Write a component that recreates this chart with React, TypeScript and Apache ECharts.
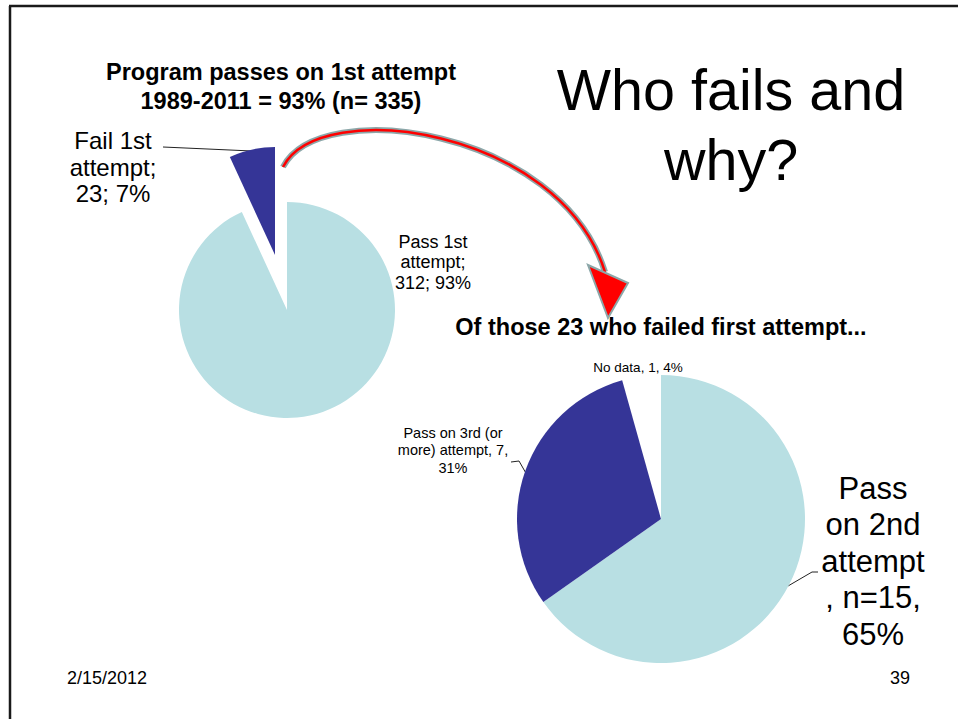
import React, { useEffect, useRef } from "react";
import * as echarts from "echarts";

// ---- data ----
const firstNames = ["Pass 1st attempt", "Fail 1st attempt"];
const firstValues = [312, 23];
const firstPercents = ["93%", "7%"];

const failedNames = ["Pass on 2nd attempt", "Pass on 3rd (or more) attempt", "No data"];
const failedValues = [15, 7, 1];
const failedPercents = ["65%", "31%", "4%"];

const titleFirst = "Program passes on 1st attempt\n1989-2011 = 93% (n= 335)";
const titleFailed = "Of those 23 who failed first attempt...";
const headline = "Who fails and\nwhy?";
const footerDate = "2/15/2012";
const footerPage = "39";

const FONT = '"Liberation Sans", Arial, Helvetica, sans-serif';
const LIGHT = "#B8DFE3";
const DARK = "#353597";
const NONE = "rgba(0,0,0,0)";
const ARROW_GRAY = "#8CA7A9";

// label texts built from the data
const firstLabel = (i: number) =>
  firstNames[i].replace(" attempt", "\nattempt") + ";\n" + firstValues[i] + "; " + firstPercents[i];
const failedLabel = (i: number) => {
  if (i === 0) return "Pass\non 2nd\nattempt\n, n=" + failedValues[i] + ",\n" + failedPercents[i];
  if (i === 1) return "Pass on 3rd (or\nmore) attempt, " + failedValues[i] + ",\n" + failedPercents[i];
  return failedNames[i] + ", " + failedValues[i] + ", " + failedPercents[i];
};

// label placement (layout only)
const firstLabelPos = [
  { x: 433, y: 262, size: 18, lh: 20.5 },
  { x: 113, y: 167, size: 24, lh: 26.5 },
];
const failedLabelPos = [
  { x: 873, y: 561, size: 31, lh: 36.5 },
  { x: 453, y: 450, size: 14.5, lh: 17.5 },
  { x: 638, y: 367, size: 13.5, lh: 16 },
];

function firstSeries(center: number[], shown: number) {
  return {
    type: "pie",
    silent: true,
    center,
    radius: 108,
    startAngle: 90,
    clockwise: true,
    emphasis: { disabled: true },
    itemStyle: { borderWidth: 0 },
    labelLine: { show: false },
    label: {
      show: true,
      position: "outside",
      color: "#000",
      fontFamily: FONT,
      formatter: (p: any) => firstLabel(p.dataIndex),
    },
    labelLayout: (p: any) => {
      const q = firstLabelPos[p.dataIndex];
      return { x: q.x, y: q.y, align: "center", verticalAlign: "middle" };
    },
    data: firstNames.map((n, i) => ({
      name: n,
      value: firstValues[i],
      itemStyle: { color: i === shown ? [LIGHT, DARK][i] : NONE },
      label: {
        show: i === shown,
        fontSize: firstLabelPos[i].size,
        lineHeight: firstLabelPos[i].lh,
      },
    })),
  };
}

export default function App() {
  const ref = useRef<HTMLDivElement>(null);
  useEffect(() => {
    if (!ref.current) return;
    const chart = echarts.init(ref.current, undefined, { renderer: "svg" });
    const failedColors = [LIGHT, DARK, NONE];
    chart.setOption({
      animation: false,
      backgroundColor: "#ffffff",
      series: [
        // main pie (pass slice)
        firstSeries([287, 310], 0),
        // exploded fail slice
        firstSeries([275, 255], 1),
        {
          type: "pie",
          silent: true,
          center: [661, 519],
          radius: 144,
          startAngle: 90,
          clockwise: true,
          emphasis: { disabled: true },
          itemStyle: { borderWidth: 0 },
          labelLine: { show: false },
          label: {
            show: true,
            position: "outside",
            color: "#000",
            fontFamily: FONT,
            formatter: (p: any) => failedLabel(p.dataIndex),
          },
          labelLayout: (p: any) => {
            const q = failedLabelPos[p.dataIndex];
            return { x: q.x, y: q.y, align: "center", verticalAlign: "middle" };
          },
          data: failedNames.map((n, i) => ({
            name: n,
            value: failedValues[i],
            itemStyle: { color: failedColors[i] },
            label: { fontSize: failedLabelPos[i].size, lineHeight: failedLabelPos[i].lh },
          })),
        },
      ],
      graphic: [
        // slide border (left and top)
        { type: "line", shape: { x1: 10, y1: 6, x2: 10, y2: 719 }, style: { stroke: "#1a1a1a", lineWidth: 2.5 } },
        { type: "line", shape: { x1: 9, y1: 6, x2: 958, y2: 6 }, style: { stroke: "#1a1a1a", lineWidth: 2.5 } },
        // titles
        {
          type: "text", x: 281, y: 86,
          style: { text: titleFirst, fontFamily: FONT, fontWeight: "bold", fontSize: 23.5, lineHeight: 29, align: "center", verticalAlign: "middle", fill: "#000" },
        },
        {
          type: "text", x: 731, y: 125,
          style: { text: headline, fontFamily: FONT, fontSize: 57.5, lineHeight: 70, align: "center", verticalAlign: "middle", fill: "#000" },
        },
        {
          type: "text", x: 661, y: 327,
          style: { text: titleFailed, fontFamily: FONT, fontWeight: "bold", fontSize: 23.5, align: "center", verticalAlign: "middle", fill: "#000" },
        },
        {
          type: "text", x: 67, y: 678,
          style: { text: footerDate, fontFamily: FONT, fontSize: 18, align: "left", verticalAlign: "middle", fill: "#000" },
        },
        {
          type: "text", x: 910, y: 678,
          style: { text: footerPage, fontFamily: FONT, fontSize: 18, align: "right", verticalAlign: "middle", fill: "#000" },
        },
        // leader lines
        { type: "polyline", shape: { points: [[163, 147], [252, 151]] }, style: { stroke: "#222", lineWidth: 1, fill: null } },
        { type: "polyline", shape: { points: [[511, 462], [519, 461], [527, 475]] }, style: { stroke: "#222", lineWidth: 1, fill: null } },
        { type: "polyline", shape: { points: [[818, 572], [812, 572], [788, 586]] }, style: { stroke: "#222", lineWidth: 1, fill: null } },
        // curved arrow
        {
          type: "bezierCurve",
          shape: { x1: 283, y1: 167, cpx1: 320, cpy1: 95, cpx2: 560, cpy2: 128, x2: 605, y2: 272 },
          style: { stroke: ARROW_GRAY, lineWidth: 6, fill: null, lineCap: "butt" },
        },
        {
          type: "bezierCurve",
          shape: { x1: 283, y1: 167, cpx1: 320, cpy1: 95, cpx2: 560, cpy2: 128, x2: 605, y2: 272 },
          style: { stroke: "#FF0000", lineWidth: 2.5, fill: null, lineCap: "butt" },
        },
        {
          type: "polygon",
          shape: { points: [[588, 265], [628, 283], [608, 318]] },
          style: { fill: "#FF0000", stroke: ARROW_GRAY, lineWidth: 2 },
        },
      ],
    });
    return () => chart.dispose();
  }, []);
  return (
    <div
      ref={ref}
      style={{ position: "fixed", left: 0, top: 0, width: 958, height: 719, background: "#fff" }}
    />
  );
}
